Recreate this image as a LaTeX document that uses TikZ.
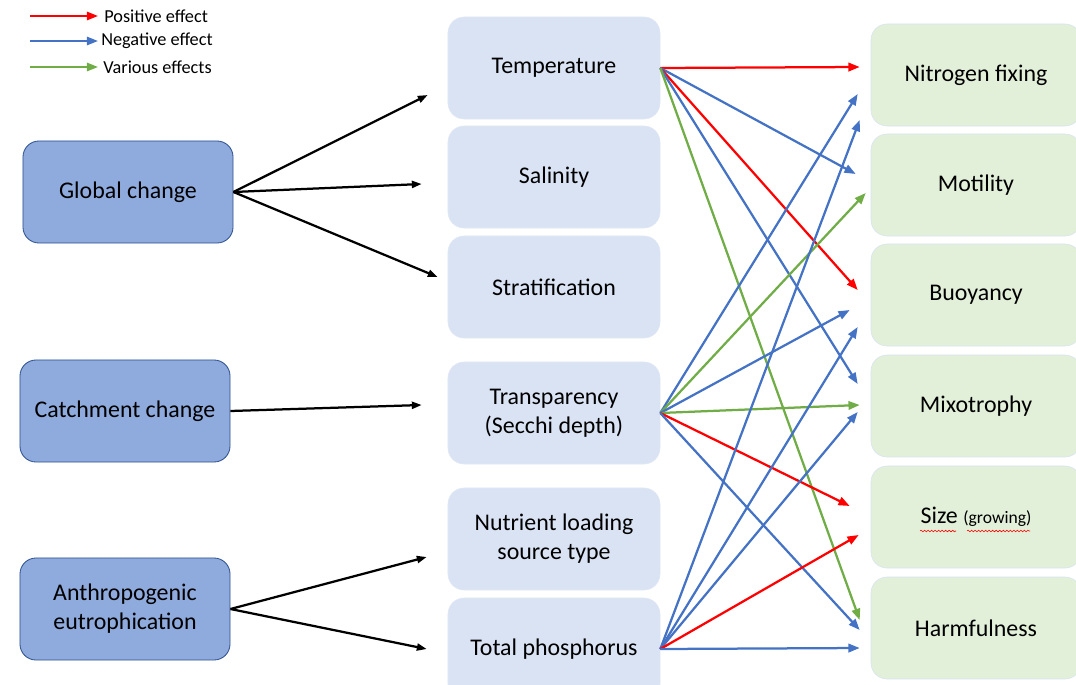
\documentclass[tikz,border=0pt]{standalone}
\usepackage{fontspec}
\setmainfont{Carlito}
\usetikzlibrary{arrows.meta, positioning, calc, decorations.pathmorphing}
\definecolor{darkblue}{RGB}{143,170,220}
\definecolor{edgeblue}{RGB}{47,82,143}
\definecolor{paleblue}{RGB}{218,227,243}
\definecolor{palegreen}{RGB}{226,240,217}
\definecolor{posred}{RGB}{255,0,0}
\definecolor{negblue}{RGB}{68,114,196}
\definecolor{vargreen}{RGB}{112,173,71}

\begin{document}
\begin{tikzpicture}[x=0.025cm, y=-0.025cm,
            driver/.style={draw=edgeblue, line width=0.6pt, fill=darkblue, rounded corners=0.4cm, minimum width=5.25cm, minimum height=2.55cm, align=center, font=\fontsize{17}{20.6}\selectfont},
            factor/.style={draw=paleblue!80!white, fill=paleblue, rounded corners=0.4cm, minimum width=5.3cm, minimum height=2.55cm, align=center, font=\fontsize{17}{20.6}\selectfont},
            trait/.style={draw=paleblue, fill=palegreen, rounded corners=0.4cm, minimum width=5.25cm, minimum height=2.55cm, align=center, font=\fontsize{17}{20.6}\selectfont},
            blkarr/.style={-{Triangle[length=7pt, width=5pt]}, line width=1.6pt, black},
            posarr/.style={-{Triangle[length=8pt, width=6pt]}, line width=1.6pt, posred},
            negarr/.style={-{Triangle[length=8pt, width=6pt]}, line width=1.6pt, negblue},
            vararr/.style={-{Triangle[length=8pt, width=6pt]}, line width=1.6pt, vargreen},
            legtext/.style={anchor=west, inner sep=0pt, font=\fontsize{13}{15}\selectfont}
        ]
            \useasboundingbox (0,0) rectangle (1076,684);

            % legend
            \coordinate (lp1) at (30,16);  \node[legtext] (lp2) at (104,16) {Positive effect};
            \coordinate (ln1) at (30,41);  \node[legtext] (ln2) at (101,41) {Negative effect};
            \coordinate (lv1) at (30,67);  \node[legtext] (lv2) at (103,67) {Various effects};
            \draw[posarr, line width=1.3pt] (lp1) -- ([shift={(-6,0)}]lp2.west);
            \draw[negarr, line width=1.3pt] (ln1) -- ([shift={(-3,0)}]ln2.west);
            \draw[vararr, line width=1.3pt] (lv1) -- ([shift={(-5,0)}]lv2.west);

            % drivers
            \node[driver] (glob) at (128,192) {Global change};
            \node[driver] (catch) at (125,411) {Catchment change};
            \node[driver] (anthro) at (125,609) {Anthropogenic\\eutrophication};

            % environmental factors
            \node[factor] (temp) at (554,68) {Temperature};
            \node[factor] (sal) at (554,177) {Salinity};
            \node[factor] (strat) at (554,287) {Stratification};
            \node[factor] (transp) at (554,413) {Transparency\\(Secchi depth)};
            \node[factor] (nutr) at (554,539) {Nutrient loading\\source type};
            \node[factor] (tp) at (554,649) {Total phosphorus};

            % traits
            \node[trait] (nfix) at (976,75) {Nitrogen fixing};
            \node[trait] (motil) at (976,185) {Motility};
            \node[trait] (buoy) at (976,295) {Buoyancy};
            \node[trait] (mixo) at (976,406) {Mixotrophy};
            \node[trait] (size) at (976,517) {Size {\fontsize{12.5}{14}\selectfont(growing)}};
            \node[trait] (harm) at (976,628) {Harmfulness};

            % spelling marks
            \draw[posred, line width=0.4pt, decorate, decoration={snake, amplitude=0.6pt, segment length=2.5pt}] (920,531) -- (956,531);
            \draw[posred, line width=0.4pt, decorate, decoration={snake, amplitude=0.6pt, segment length=2.5pt}] (967,531) -- (1030,531);

            % drivers to factors
            \draw[blkarr] (glob.east) -- ([shift={(-20,27)}]temp.west);
            \draw[blkarr] (glob.east) -- ([shift={(-26,7)}]sal.west);
            \draw[blkarr] (glob.east) -- ([shift={(-10,-10)}]strat.west);
            \draw[blkarr] (catch.east) -- ([shift={(-26,-8)}]transp.west);
            \draw[blkarr] (anthro.east) -- ([shift={(-21,18)}]nutr.west);
            \draw[blkarr] (anthro.east) -- ([shift={(-21,0)}]tp.west);

            % temperature effects
            \draw[posarr] (temp.east) -- ([shift={(-11,-8)}]nfix.west);
            \draw[negarr] (temp.east) -- ([shift={(-15,-11)}]motil.west);
            \draw[posarr] (temp.east) -- ([shift={(-13,-5)}]buoy.west);
            \draw[negarr] (temp.east) -- ([shift={(-13,-22)}]mixo.west);
            \draw[vararr] (temp.east) -- ([shift={(-11,-8)}]harm.west);

            % transparency effects
            \draw[negarr] (transp.east) -- ([shift={(-13,19)}]nfix.west);
            \draw[vararr] (transp.east) -- ([shift={(-5,8)}]motil.west);
            \draw[negarr] (transp.east) -- ([shift={(-21,15)}]buoy.west);
            \draw[vararr] (transp.east) -- ([shift={(-11,-1)}]mixo.west);
            \draw[posarr] (transp.east) -- ([shift={(-21,-11)}]size.west);
            \draw[negarr] (transp.east) -- ([shift={(-11,2)}]harm.west);

            % phosphorus effects
            \draw[negarr] (tp.east) -- ([shift={(-11,45)}]nfix.west);
            \draw[negarr] (tp.east) -- ([shift={(-13,32)}]buoy.west);
            \draw[negarr] (tp.east) -- ([shift={(-13,6)}]mixo.west);
            \draw[posarr] (tp.east) -- ([shift={(-12,18)}]size.west);
            \draw[negarr] (tp.east) -- ([shift={(-11,20)}]harm.west);
        \end{tikzpicture}
\end{document}
